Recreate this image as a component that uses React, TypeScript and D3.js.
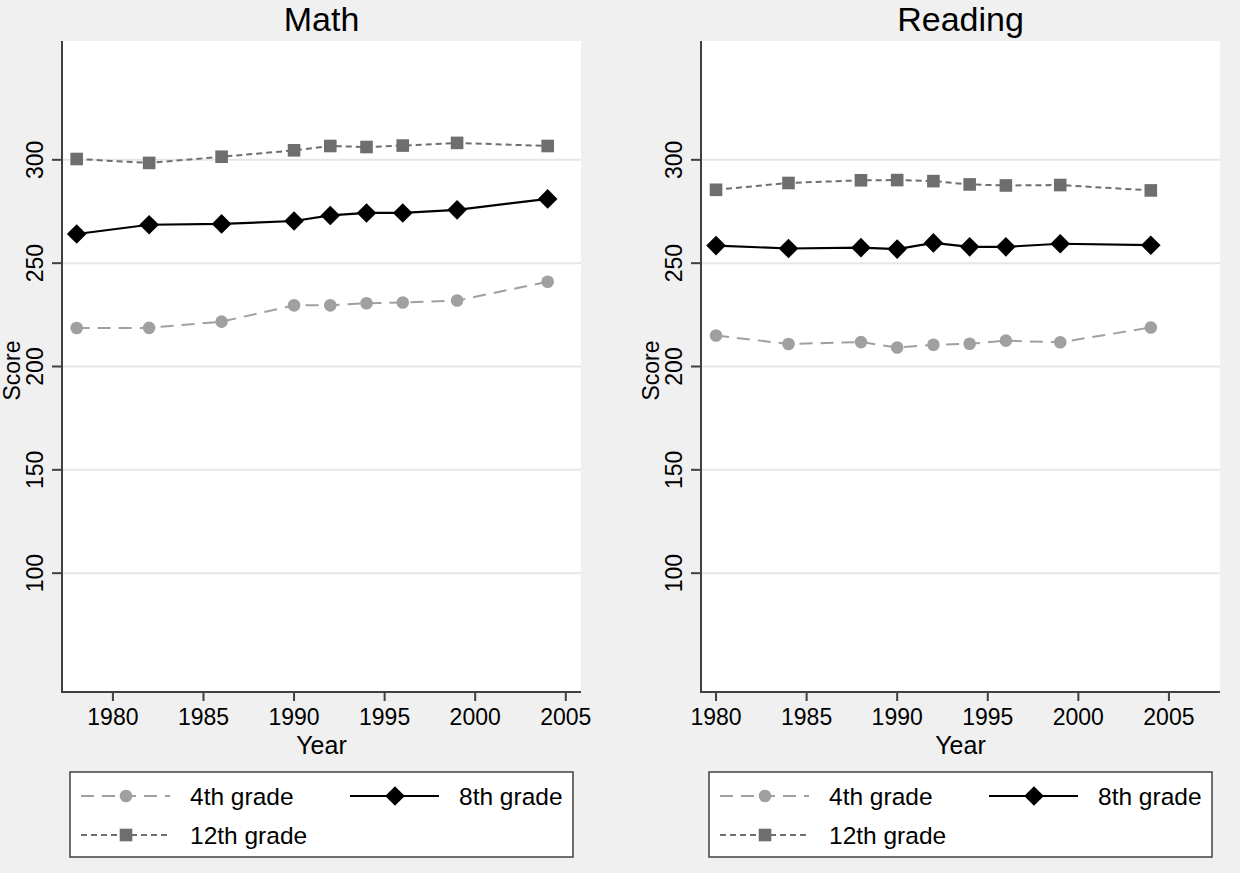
import React from "react";
import * as d3 from "d3";

const mathYears = [1978, 1982, 1986, 1990, 1992, 1994, 1996, 1999, 2004];
const math4th = [218.6, 218.7, 221.7, 229.6, 229.6, 230.6, 231.0, 231.9, 241.0];
const math8th = [264.1, 268.6, 269.0, 270.4, 273.1, 274.3, 274.3, 275.8, 281.1];
const math12th = [300.4, 298.5, 301.5, 304.6, 306.7, 306.2, 306.9, 308.2, 306.7];

const readYears = [1980, 1984, 1988, 1990, 1992, 1994, 1996, 1999, 2004];
const read4th = [215.0, 210.9, 211.8, 209.2, 210.5, 211.0, 212.5, 211.7, 218.9];
const read8th = [258.5, 257.1, 257.5, 256.8, 259.8, 257.9, 257.9, 259.4, 258.7];
const read12th = [285.5, 288.8, 290.1, 290.2, 289.7, 288.1, 287.6, 287.8, 285.2];

const xTicks = [1980, 1985, 1990, 1995, 2000, 2005];
const yTicks = [100, 150, 200, 250, 300];
const seriesNames = ["4th grade", "8th grade", "12th grade"];

const FONT = "'Liberation Sans', Arial, Helvetica, sans-serif";
const AXIS = "#404040";
const C4 = "#a0a0a0";
const C8 = "#000000";
const C12 = "#6e6e6e";

type Style = { color: string; dash: string | undefined; marker: "circle" | "diamond" | "square"; width: number };
const styles: Style[] = [
  { color: C4, dash: "13,8", marker: "circle", width: 2 },
  { color: C8, dash: undefined, marker: "diamond", width: 2.2 },
  { color: C12, dash: "6,4", marker: "square", width: 2 },
];

function Marker({ kind, x, y, color }: { kind: string; x: number; y: number; color: string }) {
  if (kind === "circle") return <circle cx={x} cy={y} r={6.3} fill={color} />;
  if (kind === "square") return <rect x={x - 6.3} y={y - 6.3} width={12.6} height={12.6} fill={color} />;
  const s = 9.8;
  return <path d={`M${x},${y - s}L${x + s},${y}L${x},${y + s}L${x - s},${y}Z`} fill={color} />;
}

function Panel({ ox, title, years, series, xDomain }: { ox: number; title: string; years: number[]; series: number[][]; xDomain: [number, number] }) {
  const left = 62 + ox;
  const right = 581 + ox;
  const top = 41;
  const bottom = 692;
  const x = d3.scaleLinear().domain(xDomain).range([left, right]);
  const y = d3.scaleLinear().domain([42.5, 357.5]).range([bottom, top]);
  const line = d3
    .line<number>()
    .x((_, i) => x(years[i]))
    .y((d) => y(d));
  const lg = { x0: 70 + ox, y0: 772, w: 503, h: 85 };
  const legendItems = [
    { i: 0, sx: 81 + ox, tx: 190 + ox, ty: 796 },
    { i: 1, sx: 350 + ox, tx: 459 + ox, ty: 796 },
    { i: 2, sx: 81 + ox, tx: 190 + ox, ty: 835 },
  ];
  return (
    <g>
      <text x={(left + right) / 2} y={31} textAnchor="middle" fontSize={34} fontFamily={FONT} fill="#000">
        {title}
      </text>
      <rect x={left} y={top} width={right - left} height={bottom - top} fill="#ffffff" />
      {yTicks.map((t) => (
        <line key={"g" + t} x1={left} x2={right} y1={y(t)} y2={y(t)} stroke="#e6e6e6" strokeWidth={2} />
      ))}
      {series.map((vals, si) => (
        <g key={"s" + si}>
          <path d={line(vals) || ""} fill="none" stroke={styles[si].color} strokeWidth={styles[si].width} strokeDasharray={styles[si].dash} />
          {vals.map((v, i) => (
            <Marker key={i} kind={styles[si].marker} x={x(years[i])} y={y(v)} color={styles[si].color} />
          ))}
        </g>
      ))}
      <line x1={left} x2={left} y1={top} y2={bottom + 1} stroke={AXIS} strokeWidth={2} />
      <line x1={left - 1} x2={right} y1={bottom} y2={bottom} stroke={AXIS} strokeWidth={2} />
      {yTicks.map((t) => (
        <g key={"yt" + t}>
          <line x1={left - 10} x2={left} y1={y(t)} y2={y(t)} stroke={AXIS} strokeWidth={2} />
          <text
            transform={`translate(${left - 19},${y(t)}) rotate(-90)`}
            textAnchor="middle"
            fontSize={23}
            fontFamily={FONT}
            fill="#000"
          >
            {t}
          </text>
        </g>
      ))}
      {xTicks.map((t) => (
        <g key={"xt" + t}>
          <line x1={x(t)} x2={x(t)} y1={bottom} y2={bottom + 9} stroke={AXIS} strokeWidth={2} />
          <text x={x(t)} y={725} textAnchor="middle" fontSize={23} fontFamily={FONT} fill="#000">
            {t}
          </text>
        </g>
      ))}
      <text x={(left + right) / 2} y={754} textAnchor="middle" fontSize={25} fontFamily={FONT} fill="#000">
        Year
      </text>
      <text
        transform={`translate(${ox + 19.5},${(top + bottom) / 2 + 4}) rotate(-90)`}
        textAnchor="middle"
        fontSize={23}
        fontFamily={FONT}
        fill="#000"
      >
        Score
      </text>
      <rect x={lg.x0} y={lg.y0} width={lg.w} height={lg.h} fill="#ffffff" stroke={AXIS} strokeWidth={1.5} />
      {legendItems.map((it) => {
        const st = styles[it.i];
        return (
          <g key={"l" + it.i}>
            <line x1={it.sx} x2={it.sx + 89} y1={it.ty} y2={it.ty} stroke={st.color} strokeWidth={st.width} strokeDasharray={st.dash} />
            <Marker kind={st.marker} x={it.sx + 45} y={it.ty} color={st.color} />
            <text x={it.tx} y={it.ty + 9} fontSize={24.5} fontFamily={FONT} fill="#000">
              {seriesNames[it.i]}
            </text>
          </g>
        );
      })}
    </g>
  );
}

export default function App() {
  return (
    <svg width={1240} height={873} style={{ position: "absolute", left: 0, top: 0, display: "block" }}>
      <rect x={0} y={0} width={1240} height={873} fill="#f0f0f0" />
      <Panel ox={0} title="Math" years={mathYears} series={[math4th, math8th, math12th]} xDomain={[1977.19, 2005.84]} />
      <Panel ox={639} title="Reading" years={readYears} series={[read4th, read8th, read12th]} xDomain={[1979.17, 2007.82]} />
    </svg>
  );
}
